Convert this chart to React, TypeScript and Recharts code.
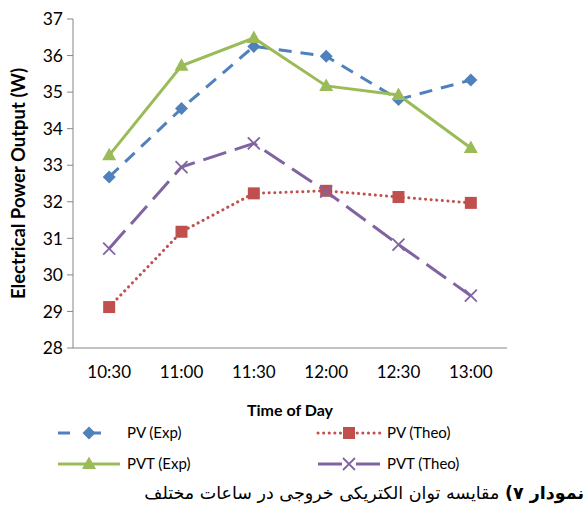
import React from "react"
import { LineChart, Line, XAxis, YAxis } from "recharts"

const times = ["10:30", "11:00", "11:30", "12:00", "12:30", "13:00"]
const pvExp = [32.68, 34.55, 36.25, 35.98, 34.8, 35.33]
const pvTheo = [29.12, 31.18, 32.23, 32.3, 32.13, 31.97]
const pvtExp = [33.27, 35.72, 36.48, 35.17, 34.92, 33.47]
const pvtTheo = [30.72, 32.95, 33.6, 32.28, 30.83, 29.43]
const yTicks = [28, 29, 30, 31, 32, 33, 34, 35, 36, 37]
const boundaryTicks = [0, 1, 2, 3, 4, 5, 6]

const data = times.map((t, i) => ({
  time: t,
  idx: i + 0.5,
  pvExp: pvExp[i],
  pvTheo: pvTheo[i],
  pvtExp: pvtExp[i],
  pvtTheo: pvtTheo[i],
}))

const FONT = "Lato, 'Open Sans', sans-serif"
const AXIS = "#868686"

type Shape = "diamond" | "square" | "triangle" | "x"

const series: { key: string; name: string; color: string; dash?: string; legendDash?: string; shape: Shape; cap: "butt" | "round" }[] = [
  { key: "pvExp", name: "PV (Exp)", color: "#4F81BD", dash: "13 9", legendDash: "12 19", shape: "diamond", cap: "butt" },
  { key: "pvTheo", name: "PV (Theo)", color: "#C0504D", dash: "0.1 5.5", legendDash: "0.1 5.5", shape: "square", cap: "round" },
  { key: "pvtExp", name: "PVT (Exp)", color: "#9BBB59", shape: "triangle", cap: "butt" },
  { key: "pvtTheo", name: "PVT (Theo)", color: "#8064A2", dash: "24 9", legendDash: "24 14", shape: "x", cap: "butt" },
]

function Marker({ x, y, shape, color }: { x: number; y: number; shape: Shape; color: string }) {
  if (shape === "diamond")
    return <path d={`M${x} ${y - 6.5}L${x + 6.5} ${y}L${x} ${y + 6.5}L${x - 6.5} ${y}Z`} fill={color} />
  if (shape === "square") return <rect x={x - 6} y={y - 6} width={12} height={12} fill={color} />
  if (shape === "triangle")
    return <path d={`M${x} ${y - 7.5}L${x + 7} ${y + 5}L${x - 7} ${y + 5}Z`} fill={color} />
  return (
    <path
      d={`M${x - 6} ${y - 6}L${x + 6} ${y + 6}M${x + 6} ${y - 6}L${x - 6} ${y + 6}`}
      stroke={color}
      strokeWidth={1.8}
      fill="none"
    />
  )
}

const makeDot = (shape: Shape, color: string) => (props: any) => {
  const { cx, cy, index } = props
  if (typeof cx !== "number" || typeof cy !== "number") return <g key={index} />
  return (
    <g key={index}>
      <Marker x={cx} y={cy} shape={shape} color={color} />
    </g>
  )
}

function ChartLegend() {
  const cols = [58, 318]
  const rows = [433, 464]
  return (
    <svg width={584} height={508} style={{ position: "absolute", left: 0, top: 0, pointerEvents: "none" }}>
      {series.map((s, i) => {
        const x0 = cols[i % 2]
        const y = rows[Math.floor(i / 2)]
        return (
          <g key={s.key}>
            <line
              x1={x0}
              x2={x0 + 62}
              y1={y}
              y2={y}
              stroke={s.color}
              strokeWidth={3}
              strokeDasharray={s.legendDash}
              strokeLinecap={s.cap}
            />
            <Marker x={x0 + 31} y={y} shape={s.shape} color={s.color} />
            <text x={x0 + 69} y={y + 5} fontSize={15} fontFamily={FONT} fill="#000">
              {s.name}
            </text>
          </g>
        )
      })}
    </svg>
  )
}

export default function App() {
  return (
    <div style={{ position: "absolute", left: 0, top: 0, width: 584, height: 508, background: "#fff" }}>
      <LineChart width={584} height={508} data={data} margin={{ top: 19, right: 77, bottom: 90, left: 0 }}>
        <XAxis
          xAxisId="main"
          dataKey="idx"
          type="number"
          domain={[0, 6]}
          ticks={data.map((d) => d.idx)}
          tickFormatter={(v: number) => times[Math.round(v - 0.5)]}
          height={70}
          stroke={AXIS}
          tickLine={false}
          tickSize={6}
          tickMargin={12}
          tick={{ fill: "#000", fontSize: 17, fontFamily: FONT }}
          label={{
            value: "Time of Day",
            position: "insideBottom",
            offset: 2,
            style: { fontSize: 16, fontWeight: 700, fontFamily: FONT, fill: "#000" },
          }}
        />
        <XAxis
          xAxisId="bounds"
          dataKey="idx"
          type="number"
          domain={[0, 6]}
          ticks={boundaryTicks}
          tick={false}
          axisLine={false}
          tickLine={{ stroke: AXIS }}
          tickSize={6}
          height={0}
        />
        <YAxis
          domain={[28, 37]}
          ticks={yTicks}
          width={73}
          stroke={AXIS}
          tickSize={6}
          tickMargin={4}
          tick={{ fill: "#000", fontSize: 17.5, fontFamily: FONT }}
          label={{
            value: "Electrical Power Output (W)",
            angle: -90,
            position: "insideLeft",
            offset: 18,
            style: { fontSize: 18.5, fontWeight: 700, fontFamily: FONT, fill: "#000", textAnchor: "middle" },
          }}
        />
        {series.map((s) => (
          <Line
            key={s.key}
            xAxisId="main"
            dataKey={s.key}
            name={s.name}
            stroke={s.color}
            strokeWidth={3}
            strokeDasharray={s.dash}
            strokeLinecap={s.cap}
            type="linear"
            dot={makeDot(s.shape, s.color)}
            activeDot={false}
            isAnimationActive={false}
          />
        ))}
      </LineChart>
      <ChartLegend />
      <div
        style={{
          position: "absolute",
          right: 0,
          top: 483,
          direction: "rtl",
          whiteSpace: "nowrap",
          fontFamily: "'DejaVu Sans', sans-serif",
          fontSize: 17.5,
          color: "#000",
        }}
      >
        <b>نمودار ۷)</b> مقایسه توان الکتریکی خروجی در ساعات مختلف
      </div>
    </div>
  )
}
